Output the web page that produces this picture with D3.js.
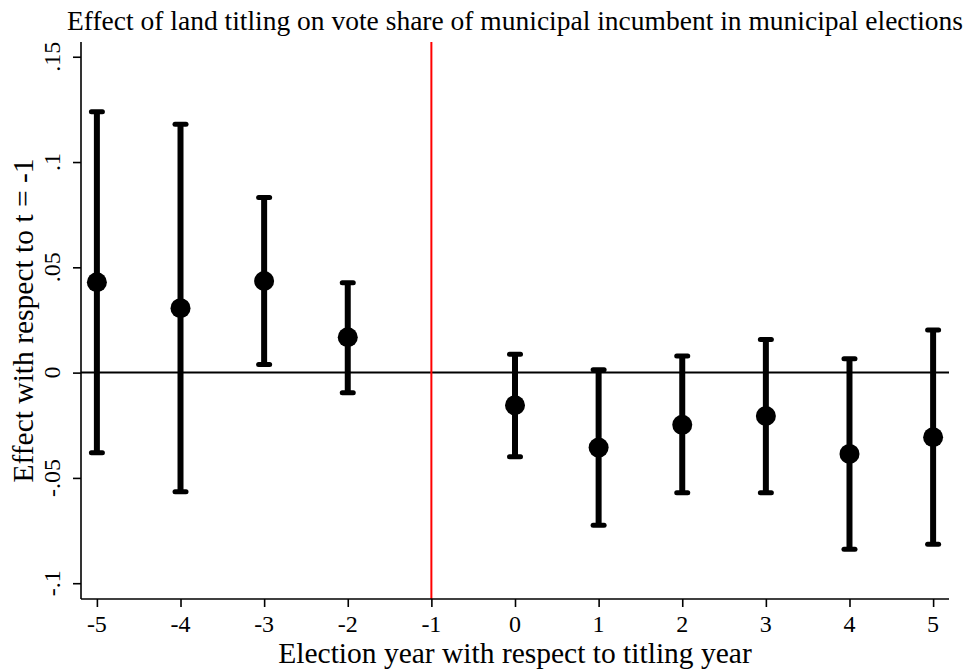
<!DOCTYPE html>
<html>
<head>
<meta charset="utf-8">
<script src="https://cdn.jsdelivr.net/npm/d3@7"></script>
<style>
  html, body { margin: 0; padding: 0; background: #fff; }
  svg { display: block; }
  svg text { font-family: "Liberation Serif", "Times New Roman", serif; fill: #000; }
</style>
</head>
<body>
<svg id="chart" width="968" height="671"></svg>
<script>
// Event-study estimates relative to t = -1 (omitted year)
const years    = [-5, -4, -3, -2, 0, 1, 2, 3, 4, 5];
const estimate = [0.0429, 0.0306, 0.0435, 0.0168, -0.0155, -0.0356, -0.0248, -0.0206, -0.0386, -0.0307];
const ciLower  = [-0.0381, -0.0566, 0.0038, -0.0095, -0.0399, -0.0725, -0.0571, -0.0570, -0.0839, -0.0815];
const ciUpper  = [0.1239, 0.1180, 0.0831, 0.0427, 0.0087, 0.0014, 0.0079, 0.0157, 0.0066, 0.0202];

const xTicks = [-5, -4, -3, -2, -1, 0, 1, 2, 3, 4, 5];
const xTickLabels = ["-5", "-4", "-3", "-2", "-1", "0", "1", "2", "3", "4", "5"];
const yTicks = [-0.1, -0.05, 0, 0.05, 0.1, 0.15];
const yTickLabels = ["-.1", "-.05", "0", ".05", ".1", ".15"];
const referenceYear = -1;

const titleText = "Effect of land titling on vote share of municipal incumbent in municipal elections";
const xTitle = "Election year with respect to titling year";
const yTitle = "Effect with respect to t = -1";

const tickFont = "24px";

const svg = d3.select("#chart");
const plot = { left: 81, right: 949, top: 42, bottom: 599 };

const x = d3.scaleLinear().domain([-5.19, 5.19]).range([plot.left, plot.right]);
const y = d3.scaleLinear().domain([-0.1075, 0.157]).range([plot.bottom, plot.top]);

const rows = years.map((yr, i) => ({ year: yr, est: estimate[i], lo: ciLower[i], hi: ciUpper[i] }));

// Title
svg.append("text")
  .attr("x", (plot.left + plot.right) / 2)
  .attr("y", 30)
  .attr("text-anchor", "middle")
  .style("font-size", "27.5px")
  .text(titleText);

// Horizontal zero line
svg.append("line")
  .attr("x1", plot.left).attr("x2", plot.right)
  .attr("y1", y(0)).attr("y2", y(0))
  .attr("stroke", "#000").attr("stroke-width", 2);

// Vertical reference line at the omitted year
svg.append("line")
  .attr("x1", x(referenceYear)).attr("x2", x(referenceYear))
  .attr("y1", plot.top).attr("y2", plot.bottom)
  .attr("stroke", "#ff0000").attr("stroke-width", 2);

// Axes: lines and ticks from d3.axis, labels drawn as plain text
const xAxis = svg.append("g")
  .attr("transform", `translate(0,${plot.bottom})`)
  .call(d3.axisBottom(x).tickValues(xTicks).tickSize(8).tickFormat(""));
xAxis.select(".domain").attr("stroke-width", 1.6).attr("d", `M${plot.left},0H${plot.right}`);
xAxis.selectAll(".tick line").attr("stroke-width", 1.6);

svg.append("g").selectAll("text").data(xTicks).join("text")
  .attr("x", d => x(d))
  .attr("y", plot.bottom + 32.5)
  .attr("text-anchor", "middle")
  .style("font-size", tickFont)
  .text((d, i) => xTickLabels[i]);

const yAxis = svg.append("g")
  .attr("transform", `translate(${plot.left},0)`)
  .call(d3.axisLeft(y).tickValues(yTicks).tickSize(8).tickFormat(""));
yAxis.select(".domain").attr("stroke-width", 1.6).attr("d", `M0,${plot.top}V${plot.bottom}`);
yAxis.selectAll(".tick line").attr("stroke-width", 1.6);

svg.append("g").selectAll("text").data(yTicks).join("text")
  .attr("transform", d => `translate(${plot.left - 21},${y(d)}) rotate(-90)`)
  .attr("text-anchor", "middle")
  .style("font-size", tickFont)
  .text((d, i) => yTickLabels[i]);

// Axis titles
svg.append("text")
  .attr("x", (plot.left + plot.right) / 2)
  .attr("y", 663)
  .attr("text-anchor", "middle")
  .style("font-size", "29.5px")
  .text(xTitle);

svg.append("text")
  .attr("transform", `translate(33,${(plot.top + plot.bottom) / 2}) rotate(-90)`)
  .attr("text-anchor", "middle")
  .style("font-size", "29.5px")
  .text(yTitle);

// Confidence intervals
const bars = svg.append("g").attr("stroke", "#000");
bars.selectAll("line.ci").data(rows).join("line")
  .attr("class", "ci")
  .attr("x1", d => x(d.year)).attr("x2", d => x(d.year))
  .attr("y1", d => y(d.lo)).attr("y2", d => y(d.hi))
  .attr("stroke-width", 6);

const capHalf = 5.5;
["lo", "hi"].forEach(k => {
  bars.selectAll(`line.cap-${k}`).data(rows).join("line")
    .attr("class", `cap-${k}`)
    .attr("x1", d => x(d.year) - capHalf).attr("x2", d => x(d.year) + capHalf)
    .attr("y1", d => y(d[k])).attr("y2", d => y(d[k]))
    .attr("stroke-width", 5)
    .attr("stroke-linecap", "round");
});

// Point estimates
svg.append("g").selectAll("circle").data(rows).join("circle")
  .attr("cx", d => x(d.year))
  .attr("cy", d => y(d.est))
  .attr("r", 10)
  .attr("fill", "#000");
</script>
</body>
</html>
